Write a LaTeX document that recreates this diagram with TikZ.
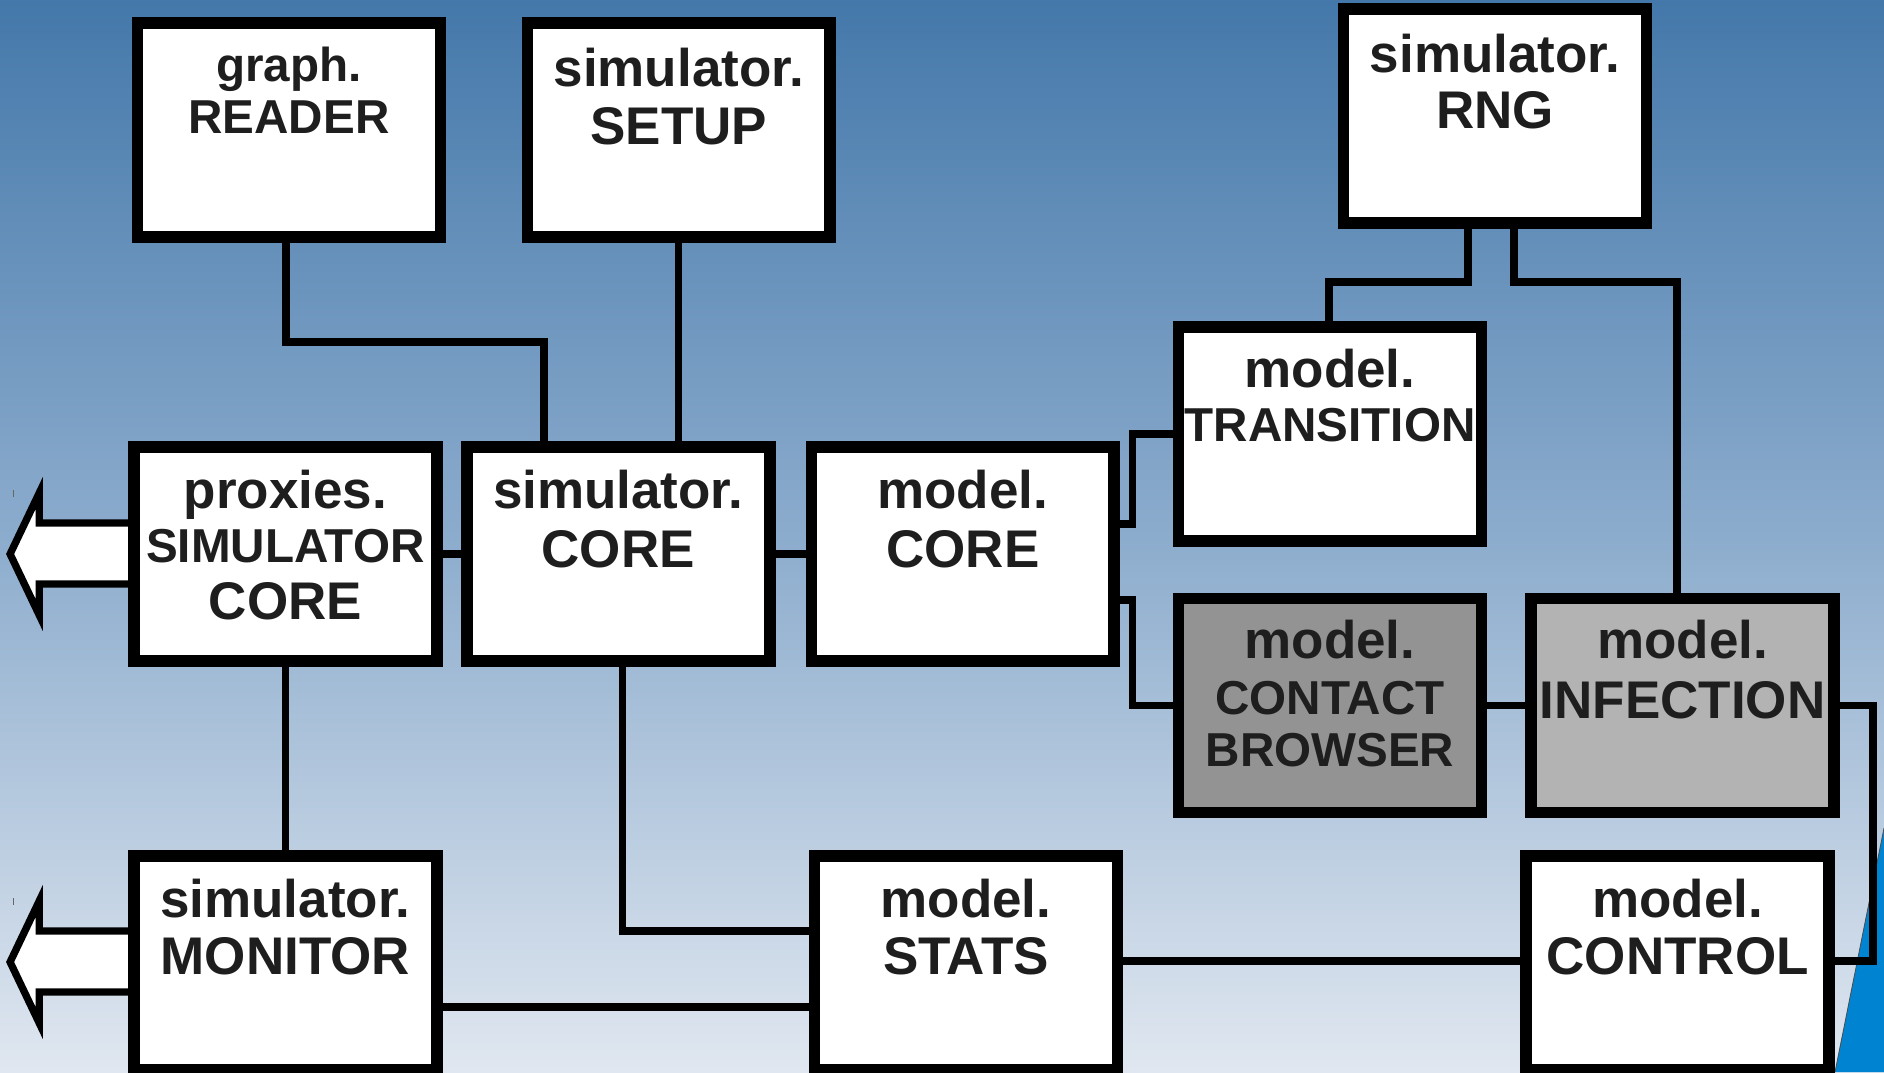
\documentclass[tikz,border=0pt]{standalone}
\usepackage{fontspec}
\setmainfont{Liberation Sans}
\usetikzlibrary{calc}
\definecolor{bgtop}{RGB}{68,120,170}
\definecolor{bgmid}{RGB}{140,172,205}
\definecolor{bgbot}{RGB}{224,231,240}
\definecolor{txt}{RGB}{30,30,30}
\definecolor{cbfill}{RGB}{147,147,147}
\definecolor{infill}{RGB}{179,179,179}
\definecolor{tri}{RGB}{0,132,209}
\tikzset{
  box/.style={draw=black, line width=7.8pt, fill=white, minimum width=299pt, minimum height=210pt, inner sep=0pt},
  conn/.style={draw=black, line width=7.3pt, line join=miter},
  bigarrow/.style={draw=black, fill=white, line width=7.3pt, line join=miter, miter limit=10},
  lbl/.style={text=txt, font=\bfseries\fontsize{53pt}{53pt}\selectfont, inner sep=0pt, anchor=base},
  lbls/.style={lbl, font=\bfseries\fontsize{47.6pt}{47.6pt}\selectfont},
}
\begin{document}
\begin{tikzpicture}[x=1pt,y=-1pt]
% background
\shade[top color=bgtop, bottom color=bgbot, middle color=bgmid] (0,0) rectangle (1884,1072);
\useasboundingbox (0,0) rectangle (1884,1072);
% blue triangle
\fill[tri] (1884,828) -- (1884,1072) -- (1835,1072) -- cycle;
\draw[black!70, line width=0.8pt] (1884,828) -- (1835,1072);
% tick marks
\draw[black!60, line width=1.6pt] (13.3,490) -- (13.3,497);
\draw[black!60, line width=1.6pt] (13.3,898) -- (13.3,905);

% boxes
\node[box] (reader) at (289,129.8) {};
\node[box] (setup) at (678.8,129.8) {};
\node[box] (rng) at (1495,116) {};
\node[box] (transition) at (1330,434) {};
\node[box] (proxies) at (285.3,554) {};
\node[box] (simcore) at (618.2,554) {};
\node[box] (modelcore) at (962.8,554) {};
\node[box, fill=cbfill] (contact) at (1330,705.5) {};
\node[box, fill=infill] (infection) at (1682.5,705.5) {};
\node[box] (monitor) at (285.3,963) {};
\node[box] (stats) at (966,963) {};
\node[box] (control) at (1677.6,963) {};

% connectors
\coordinate (jR) at (544,342);
\coordinate (jT) at (1329,282);
\coordinate (jI) at (1677,282);
\draw[conn] ([xshift=-3pt]reader.south) |- (jR) -- (jR |- simcore.north);
\draw[conn] (setup.south) -- (setup.south |- simcore.north);
\draw[conn] ([xshift=-27pt]rng.south) |- (jT) -- (jT |- transition.north);
\draw[conn] ([xshift=19pt]rng.south) |- (jI) -- (jI |- infection.north);
\draw[conn] (proxies.east) -- (simcore.west);
\draw[conn] (simcore.east) -- (modelcore.west);
\draw[conn] ([yshift=30pt]modelcore.east) -- ++(16,0) |- (transition.west);
\draw[conn] ([yshift=-46pt]modelcore.east) -- ++(16,0) |- (contact.west);
\draw[conn] (contact.east) -- (infection.west);
\draw[conn] (infection.east) -- ++(37,0) |- ([yshift=2pt]control.east);
\draw[conn] (proxies.south) -- (monitor.north);
\draw[conn] ([xshift=4pt]simcore.south) |- ([yshift=32pt]stats.west);
\draw[conn] ([yshift=-44pt]monitor.east) -- ([yshift=-44pt]stats.west);
\draw[conn] ([yshift=2pt]stats.east) -- ([yshift=2pt]control.west);

% big arrows
\draw[bigarrow] ([yshift=31pt]proxies.west) -- ++(-92.7,0) -- ++(0,-30) -- ++(-29.1,61) -- ++(29.1,61) -- ++(0,-31) -- ++(92.7,0);
\draw[bigarrow] ([yshift=32pt]monitor.west) -- ++(-92.7,0) -- ++(0,-30) -- ++(-29.1,61) -- ++(29.1,61) -- ++(0,-31) -- ++(92.7,0);

% redraw box borders on top of connector ends
\foreach \b in {reader,setup,rng,transition,proxies,simcore,modelcore,contact,infection,monitor,stats,control}{
  \draw[black, line width=7.8pt] (\b.north west) rectangle (\b.south east);
}

% labels
\node[lbls] (reader1) at (289,81.7) {graph.};
\node[lbls] (reader2) at (289,133.4) {READER};
\node[lbl] (setup1) at (678.8,86.5) {simulator.};
\node[lbl] (setup2) at (678.8,144.2) {SETUP};
\node[lbl] (rng1) at (1495,72) {simulator.};
\node[lbl] (rng2) at (1495,128.6) {RNG};
\node[lbl] (trans1) at (1330,387) {model.};
\node[lbls] (trans2) at (1330,441) {TRANSITION};
\node[lbl] (prox1) at (285.3,508) {proxies.};
\node[lbls] (prox2) at (285.3,562) {SIMULATOR};
\node[lbl] (prox3) at (285.3,619) {CORE};
\node[lbl] (simc1) at (618.2,508) {simulator.};
\node[lbl] (simc2) at (618.2,567) {CORE};
\node[lbl] (modc1) at (962.8,508) {model.};
\node[lbl] (modc2) at (962.8,567) {CORE};
\node[lbl] (cont1) at (1330,658) {model.};
\node[lbls] (cont2) at (1330,714) {CONTACT};
\node[lbls] (cont3) at (1330,766) {BROWSER};
\node[lbl] (inf1) at (1682.5,658) {model.};
\node[lbl] (inf2) at (1682.5,718.5) {INFECTION};
\node[lbl] (mon1) at (285.3,917) {simulator.};
\node[lbl] (mon2) at (285.3,974) {MONITOR};
\node[lbl] (stat1) at (966,917) {model.};
\node[lbl] (stat2) at (966,974) {STATS};
\node[lbl] (ctrl1) at (1677.6,917) {model.};
\node[lbl] (ctrl2) at (1677.6,974) {CONTROL};
\end{tikzpicture}
\end{document}
